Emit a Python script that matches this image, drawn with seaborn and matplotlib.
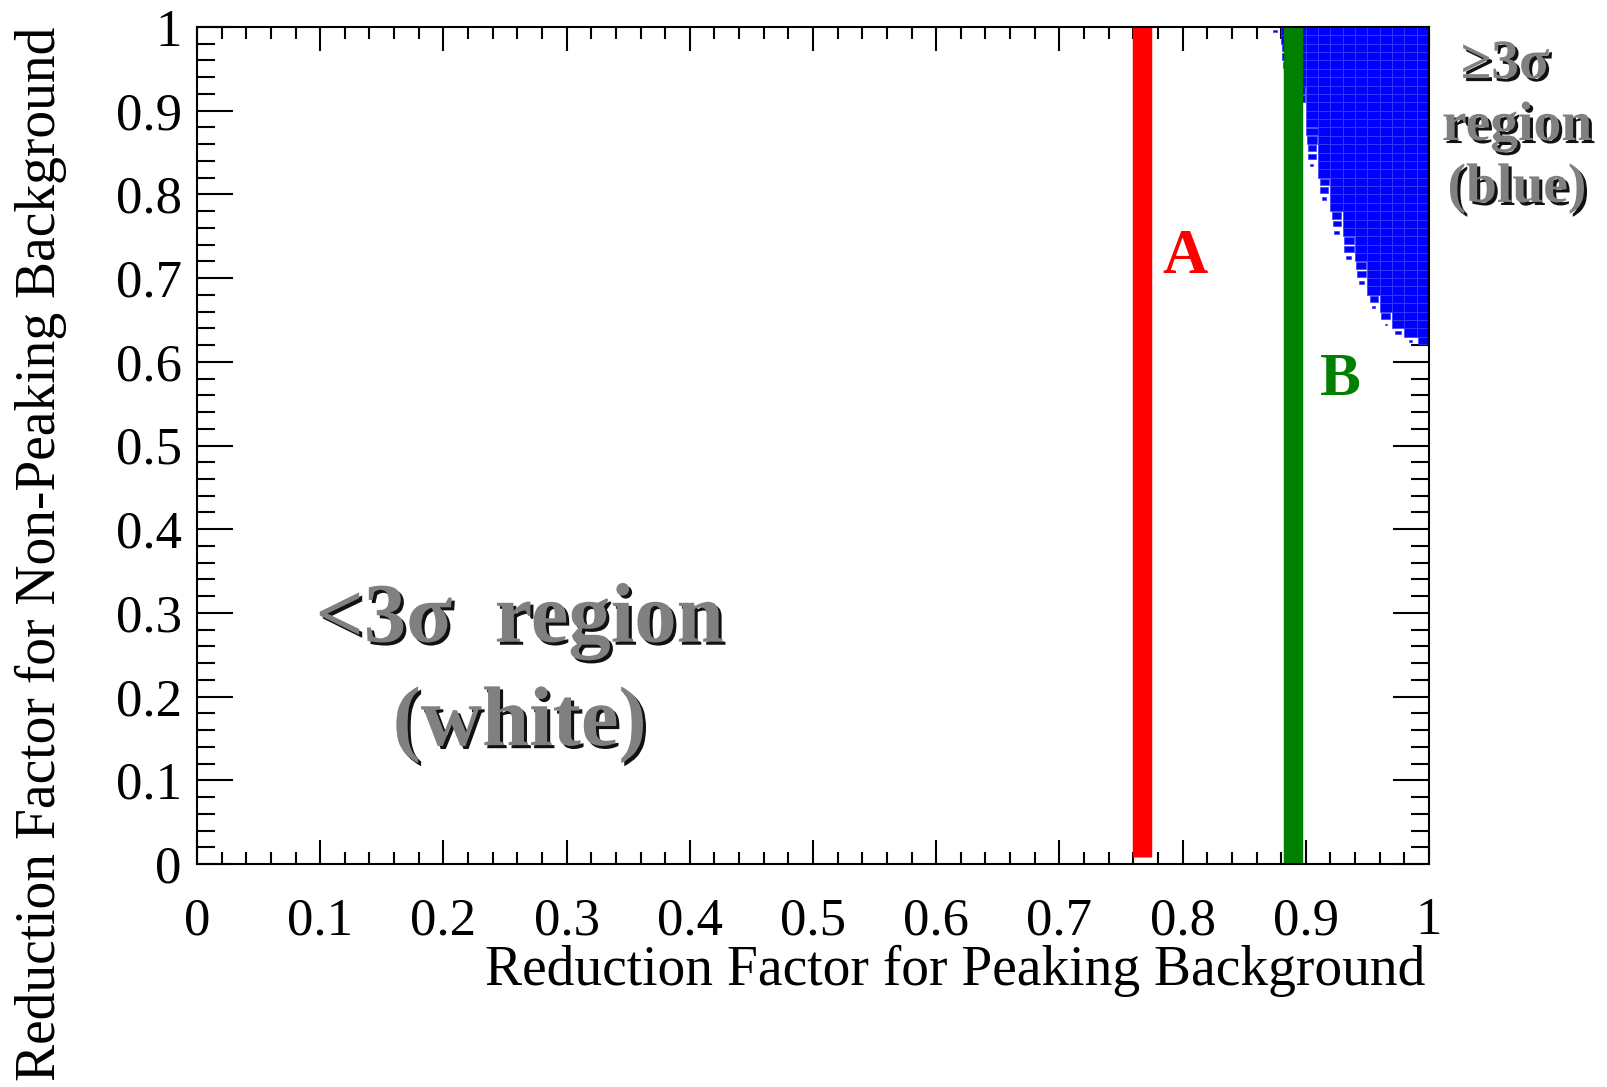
import matplotlib
matplotlib.use("Agg")
import matplotlib.pyplot as plt
import matplotlib.patheffects as pe
from matplotlib.patches import Rectangle
from matplotlib.collections import PatchCollection
from matplotlib.ticker import MultipleLocator
import seaborn as sns
import pandas as pd

# ---------------- data ----------------
x_tick_values = [0.0, 0.1, 0.2, 0.3, 0.4, 0.5, 0.6, 0.7, 0.8, 0.9, 1.0]
x_tick_labels = ["0", "0.1", "0.2", "0.3", "0.4", "0.5", "0.6", "0.7", "0.8", "0.9", "1"]
y_tick_values = [0.0, 0.1, 0.2, 0.3, 0.4, 0.5, 0.6, 0.7, 0.8, 0.9, 1.0]
y_tick_labels = ["0", "0.1", "0.2", "0.3", "0.4", "0.5", "0.6", "0.7", "0.8", "0.9", "1"]

# 2D histogram (>=3 sigma region): bins of 0.01 x 0.01
bin_width = 0.01
bin_height = 0.01
column_left = [0.87, 0.88, 0.89, 0.90, 0.91, 0.92, 0.93, 0.94, 0.95, 0.96, 0.97, 0.98, 0.99]
column_full_from = [1.00, 0.98, 0.93, 0.88, 0.82, 0.78, 0.75, 0.72, 0.68, 0.66, 0.64, 0.63, 0.63]
column_partial_sizes = [
    [0.3],
    [0.85, 0.8, 0.7, 0.5],
    [0.95, 0.85],
    [0.9, 0.85, 0.7, 0.6, 0.25],
    [0.75, 0.65, 0.35],
    [0.78, 0.65, 0.35],
    [0.8, 0.75, 0.4],
    [0.85, 0.75, 0.4],
    [0.65, 0.25],
    [0.75, 0.15],
    [0.45],
    [0.3],
    [0.85],
]

line_a_x = [0.767, 0.767]
line_a_y = [0.008, 1.0]
line_b_x = [0.890, 0.890]
line_b_y = [0.0, 1.0]

# ---------------- build cell table ----------------
rows = []
for xl, yf, parts in zip(column_left, column_full_from, column_partial_sizes):
    n_full = int(round((1.0 - yf) / bin_height))
    for k in range(n_full):
        rows.append((xl, yf + k * bin_height, 1.0))
    for k, s in enumerate(parts):
        rows.append((xl, yf - (k + 1) * bin_height, s))
cells = pd.DataFrame(rows, columns=["x", "y", "size"])

# ---------------- style ----------------
sns.set_theme(style="ticks")
plt.rcParams["font.family"] = ["Liberation Serif", "DejaVu Serif"]
plt.rcParams["axes.linewidth"] = 1.5

fig = plt.figure(figsize=(16.08, 10.87), dpi=100)
fig.patch.set_facecolor("white")
ax = fig.add_axes([197 / 1608, 1 - 864 / 1087, 1232 / 1608, 837 / 1087])
ax.set_facecolor("white")

patches = []
for _, r in cells.iterrows():
    w = bin_width * r["size"]
    h = bin_height * r["size"]
    cx = r["x"] + bin_width / 2
    cy = r["y"] + bin_height / 2
    patches.append(Rectangle((cx - w / 2, cy - h / 2), w, h))
pc = PatchCollection(patches, facecolor="#0000ff", edgecolor="#3c3cff",
                     linewidth=0.5, zorder=1)
ax.add_collection(pc)

sns.lineplot(x=line_a_x, y=line_a_y, estimator=None, sort=False, color="#ff0000",
             linewidth=14, ax=ax, legend=False, solid_capstyle="butt", zorder=2)
sns.lineplot(x=line_b_x, y=line_b_y, estimator=None, sort=False, color="#008000",
             linewidth=14, ax=ax, legend=False, solid_capstyle="butt", zorder=2)

ax.set_xlim(0, 1)
ax.set_ylim(0, 1)
ax.set_xticks(x_tick_values)
ax.set_xticklabels(x_tick_labels)
ax.set_yticks(y_tick_values)
ax.set_yticklabels(y_tick_labels)
ax.xaxis.set_minor_locator(MultipleLocator(0.02))
ax.yaxis.set_minor_locator(MultipleLocator(0.02))

for s in ax.spines.values():
    s.set_visible(True)
    s.set_color("black")
    s.set_linewidth(1.5)
    s.set_zorder(4)

ax.tick_params(axis="both", which="both", direction="in", top=True, right=True,
               color="black", width=1.5, labelsize=38, labelcolor="black")
ax.tick_params(axis="x", which="major", length=17.3, pad=24)
ax.tick_params(axis="x", which="minor", length=8.6)
ax.tick_params(axis="y", which="major", length=26, pad=11)
ax.tick_params(axis="y", which="minor", length=13)
for t in ax.xaxis.get_major_ticks() + ax.yaxis.get_major_ticks():
    t.tick1line.set_zorder(5)
    t.tick2line.set_zorder(5)

ax.set_xlabel("Reduction Factor for Peaking Background", fontsize=40, color="black", loc="right")
ax.xaxis.set_label_coords(0.997, -0.097)
ax.set_ylabel("Reduction Factor for Non-Peaking Background", fontsize=40, color="black", loc="top")
ax.yaxis.set_label_coords(-0.1055, 1.0)

ax.text(0.802, 0.7065, "A", color="#ff0000", fontsize=45, fontweight="bold",
        ha="center", va="baseline", zorder=6)
ax.text(0.928, 0.560, "B", color="#008000", fontsize=44, fontweight="bold",
        ha="center", va="baseline", zorder=6)

shadow = [pe.withSimplePatchShadow(offset=(2.2, -2.2), shadow_rgbFace="#111111", alpha=1.0)]
gray = "#808080"
for txt, xc, yb in [("≥3σ", 1.0617, 0.939), ("region", 1.0714, 0.865), ("(blue)", 1.0714, 0.791)]:
    ax.text(xc, yb, txt, transform=ax.transAxes, color=gray, fontsize=40,
            fontweight="bold", ha="center", va="baseline", clip_on=False,
            path_effects=shadow, zorder=6)
for txt, yb in [("<3σ  region", 0.2656), ("(white)", 0.142)]:
    ax.text(0.262, yb, txt, transform=ax.transAxes, color=gray, fontsize=61,
            fontweight="bold", ha="center", va="baseline",
            path_effects=shadow, zorder=6)

fig.savefig("out.png", dpi=100, facecolor="white")
